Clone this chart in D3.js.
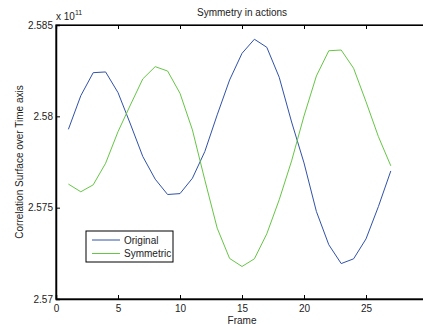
<!DOCTYPE html>
<html>
<head>
<meta charset="utf-8">
<script src="https://cdn.jsdelivr.net/npm/d3@7/dist/d3.min.js"></script>
<style>
  html, body { margin: 0; padding: 0; background: #fff; }
  svg { display: block; font-family: "Liberation Sans", Arial, sans-serif; }
</style>
</head>
<body>
<svg id="chart" width="423" height="324"></svg>
<script>
// values, in units of 1e11
const frames = d3.range(1, 28);
const original = [
  2.57929, 2.58113, 2.58239, 2.58243, 2.58130, 2.57958, 2.57780, 2.57656, 2.57572,
  2.57577, 2.57661, 2.57807, 2.58008, 2.58199, 2.58345, 2.58422, 2.58378, 2.58214,
  2.57969, 2.57745, 2.57479, 2.57297, 2.57194, 2.57220, 2.57329, 2.57506, 2.57701
];
const symmetric = [
  2.57629, 2.57587, 2.57625, 2.57743, 2.57916, 2.58062, 2.58205, 2.58272, 2.58248,
  2.58126, 2.57926, 2.57652, 2.57388, 2.57222, 2.57178, 2.57220, 2.57357, 2.57543,
  2.57756, 2.58002, 2.58221, 2.58359, 2.58363, 2.58263, 2.58080, 2.57889, 2.57729
];
const xTicks = [0, 5, 10, 15, 20, 25, 30];
const yTicks = [2.57, 2.575, 2.58, 2.585];
const seriesNames = ['Original', 'Symmetric'];
const seriesColors = ['#3152a8', '#66c645'];

const svg = d3.select('#chart');
const margin = { left: 56, top: 25, right: 428, bottom: 299 };

const x = d3.scaleLinear().domain([0, 30]).range([margin.left, margin.right]);
const y = d3.scaleLinear().domain([2.57, 2.585]).range([margin.bottom, margin.top]);

// plot box
svg.append('rect')
  .attr('x', margin.left)
  .attr('y', margin.top)
  .attr('width', margin.right - margin.left)
  .attr('height', margin.bottom - margin.top)
  .attr('fill', '#fff')
  .attr('stroke', '#000')
  .attr('stroke-width', 1.2);

// bottom axis, ticks pointing in
const xAxis = svg.append('g')
  .attr('transform', `translate(0,${margin.bottom})`)
  .call(d3.axisBottom(x).tickValues(xTicks).tickSize(-4).tickPadding(6).tickFormat(d3.format('d')));
const xTop = svg.append('g')
  .attr('transform', `translate(0,${margin.top})`)
  .call(d3.axisTop(x).tickValues(xTicks).tickSize(-4).tickFormat(''));
const yAxis = svg.append('g')
  .attr('transform', `translate(${margin.left},0)`)
  .call(d3.axisLeft(y).tickValues(yTicks).tickSize(-4).tickPadding(3).tickFormat(d3.format('')));

[xAxis, xTop, yAxis].forEach((g) => {
  g.select('.domain').attr('stroke', '#000').attr('stroke-width', 1.5);
  g.selectAll('.tick line').attr('stroke', '#000');
  g.selectAll('text').attr('font-size', 10).attr('fill', '#222');
});
xTop.select('.domain').attr('stroke-width', 1.2);

// lines
const line = d3.line().x((d, i) => x(frames[i])).y((d) => y(d));
[original, symmetric].forEach((vals, k) => {
  svg.append('path')
    .datum(vals)
    .attr('d', line)
    .attr('fill', 'none')
    .attr('stroke', seriesColors[k])
    .attr('stroke-width', 1);
});

// titles
svg.append('text')
  .attr('x', 242).attr('y', 16)
  .attr('text-anchor', 'middle')
  .attr('font-size', 10).attr('fill', '#222')
  .text('Symmetry in actions');

svg.append('text')
  .attr('x', 242).attr('y', 323.5)
  .attr('text-anchor', 'middle')
  .attr('font-size', 10).attr('fill', '#222')
  .text('Frame');

svg.append('text')
  .attr('transform', 'translate(23,162) rotate(-90)')
  .attr('text-anchor', 'middle')
  .attr('font-size', 10).attr('fill', '#222')
  .text('Correlation Surface over Time axis');

const expo = svg.append('text')
  .attr('x', 56).attr('y', 20)
  .attr('font-size', 10).attr('fill', '#222');
expo.append('tspan').text('x 10');
expo.append('tspan').attr('font-size', 7).attr('dy', -5).text('11');

// legend
const legend = svg.append('g').attr('transform', 'translate(86,231)');
legend.append('rect')
  .attr('width', 87).attr('height', 31)
  .attr('fill', '#fff').attr('stroke', '#000').attr('stroke-width', 1);
seriesNames.forEach((name, k) => {
  const ly = 9 + k * 13.5;
  legend.append('line')
    .attr('x1', 6).attr('x2', 34).attr('y1', ly).attr('y2', ly)
    .attr('stroke', seriesColors[k]).attr('stroke-width', 1);
  legend.append('text')
    .attr('x', 38).attr('y', ly + 3.5)
    .attr('font-size', 10).attr('fill', '#222')
    .text(name);
});
</script>
</body>
</html>
